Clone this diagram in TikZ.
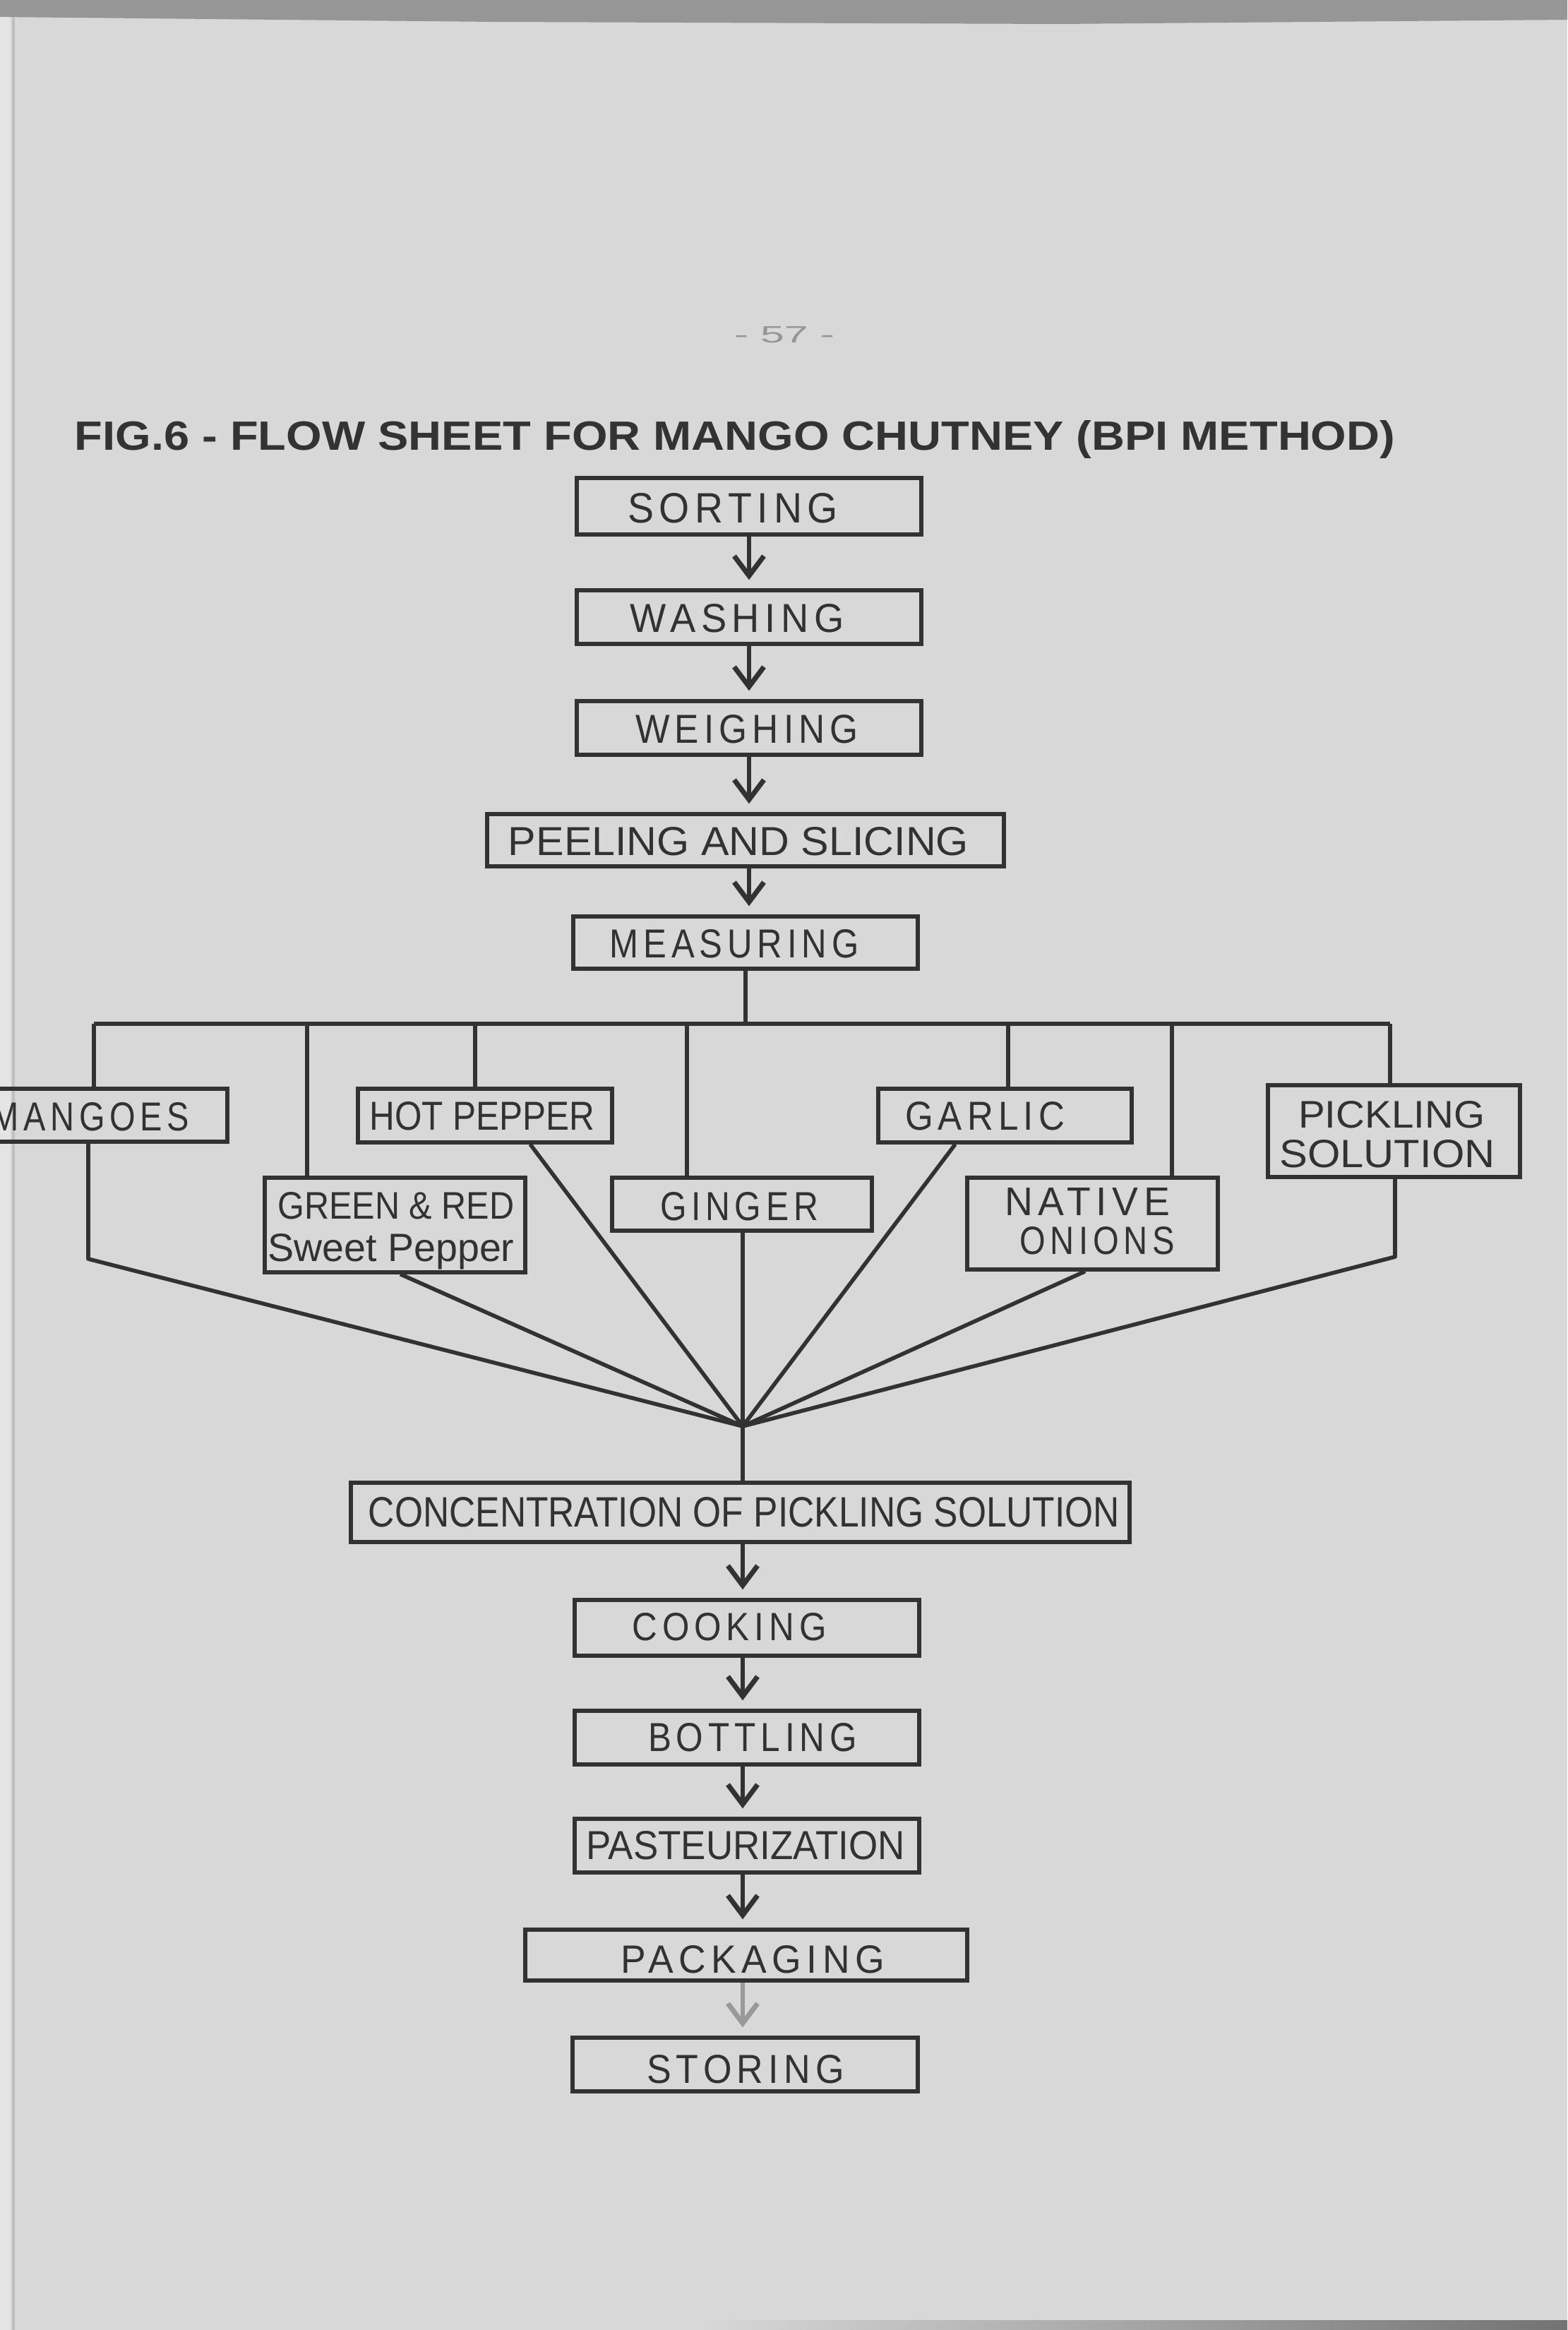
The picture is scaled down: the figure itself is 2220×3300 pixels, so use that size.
\documentclass[tikz,border=0pt]{standalone}
\usepackage{fontspec}
\setmainfont{Liberation Sans}
\newfontfamily\spaced[LetterSpace=14]{Liberation Sans}
\usetikzlibrary{arrows.meta}
\newdimen\pxu \pxu=0.01cm
\definecolor{bg}{RGB}{216,216,216}
\definecolor{ink}{RGB}{50,50,50}
\definecolor{band}{RGB}{150,150,150}
\definecolor{edge}{RGB}{228,228,228}
\definecolor{faint}{RGB}{150,150,150}
\newcommand{\lb}[3]{\resizebox{#1\pxu}{#2\pxu}{#3}}
\newcommand{\bx}[5]{\node[box, minimum width={(#3-#2)*0.01cm}, minimum height={(#5-#4)*0.01cm}] (#1) at ({(#2+#3)/2},{(#4+#5)/2}) {};}
\newcommand{\tx}[6]{\node[txt] (#1) at (#2,#3) {\lb{#4}{#5}{#6}};}
\tikzset{
  box/.style={draw=ink, line width=1.5pt, inner sep=0pt},
  txt/.style={anchor=base, inner sep=0pt, text=ink},
  link/.style={draw=ink, line width=1.6pt, line join=round},
  arr/.style={link, -{Straight Barb[length=0.28cm, width=0.42cm, line width=2pt]}, shorten >=0.12cm}
}
\begin{document}
\begin{tikzpicture}[x=0.01cm, y=-0.01cm]
\useasboundingbox (0,0) rectangle (2220,3300);
% paper
\fill[bg] (0,0) rectangle (2220,3300);
\fill[band] (0,0) -- (2220,0) -- (2220,28) -- (1500,34) -- (700,31) -- (0,24) -- cycle;
\fill[edge] (0,24) rectangle (15,3300);
\draw[color=black!25, line width=1pt] (19,24) -- (19,3300);
\shade[left color=bg, right color=black!55] (990,3286) rectangle (2220,3300);

% page number and title
\node[txt, text=faint] (pageno) at (1111,485) {\lb{142}{23}{-\ 57\ -}};
\node[txt, text=black!80] (title) at (1041,637) {\lb{1870}{42}{\bfseries FIG.6 - FLOW SHEET FOR MANGO CHUTNEY (BPI METHOD)}};

% main upper column
\bx{sorting}{817}{1305}{677}{757}
\tx{tsorting}{1038}{740}{298}{42}{\spaced SORTING}
\bx{washing}{817}{1305}{836}{912}
\tx{twashing}{1044}{895}{303}{40}{\spaced WASHING}
\bx{weighing}{817}{1305}{993}{1069}
\tx{tweighing}{1058}{1052}{316}{40}{\spaced WEIGHING}
\bx{peeling}{690}{1422}{1153}{1227}
\tx{tpeeling}{1046}{1211}{652}{40}{PEELING AND SLICING}
\bx{measuring}{812}{1300}{1298}{1372}
\tx{tmeasuring}{1040}{1356}{353}{40}{\spaced MEASURING}

\draw[arr] (sorting.south) -- (sorting.south |- washing.north);
\draw[arr] (washing.south) -- (washing.south |- weighing.north);
\draw[arr] (weighing.south) -- (weighing.south |- peeling.north);
\draw[arr] (weighing.south |- peeling.south) -- (weighing.south |- measuring.north);

% ingredient row
\bx{mangoes}{-60}{322}{1542}{1617}
\tx{tmangoes}{128}{1601}{280}{40}{\spaced MANGOES}
\bx{hot}{507}{867}{1542}{1618}
\tx{thot}{683}{1600}{319}{40}{HOT PEPPER}
\bx{garlic}{1244}{1603}{1542}{1618}
\tx{tgarlic}{1395}{1600}{226}{40}{\spaced GARLIC}
\bx{pickling}{1796}{2153}{1537}{1667}
\tx{tpick1}{1971}{1597}{264}{38}{PICKLING}
\tx{tpick2}{1965}{1653}{305}{39}{SOLUTION}
\bx{green}{375}{744}{1668}{1802}
\tx{tgreen1}{561}{1726}{335}{38}{GREEN \& RED}
\tx{tgreen2}{554}{1786}{349}{39}{Sweet Pepper}
\bx{ginger}{867}{1235}{1668}{1743}
\tx{tginger}{1047}{1728}{224}{40}{\spaced GINGER}
\bx{native}{1370}{1725}{1668}{1798}
\tx{tnative1}{1540}{1721}{234}{39}{\spaced NATIVE}
\tx{tnative2}{1554}{1776}{219}{39}{\spaced ONIONS}

% distribution bar
\coordinate (bL) at (133,1450);
\coordinate (bR) at (1969,1450);
\coordinate (d2) at (435,1450);
\coordinate (d3) at (673,1450);
\coordinate (d4) at (973,1450);
\coordinate (d5) at (1428,1450);
\coordinate (d6) at (1660,1450);
\draw[link] (bL) -- (bR);
\draw[link] (measuring.south) -- (measuring.south |- bL);
\draw[link] (bL) -- (bL |- mangoes.north);
\draw[link] (d2) -- (d2 |- green.north);
\draw[link] (d3) -- (d3 |- hot.north);
\draw[link] (d4) -- (d4 |- ginger.north);
\draw[link] (d5) -- (d5 |- garlic.north);
\draw[link] (d6) -- (d6 |- native.north);
\draw[link] (bR) -- (bR |- pickling.north);

% lower column
\bx{conc}{497}{1600}{2100}{2184}
\tx{tconc}{1054}{2162}{1064}{42}{CONCENTRATION OF PICKLING SOLUTION}
\bx{cooking}{814}{1302}{2266}{2345}
\tx{tcooking}{1033}{2323}{275}{39}{\spaced COOKING}
\bx{bottling}{814}{1302}{2423}{2499}
\tx{tbottling}{1066}{2480}{296}{40}{\spaced BOTTLING}
\bx{pasteur}{814}{1302}{2576}{2652}
\tx{tpasteur}{1056}{2633}{451}{40}{PASTEURIZATION}
\bx{packaging}{744}{1370}{2733}{2805}
\tx{tpackaging}{1066}{2794}{374}{39}{\spaced PACKAGING}
\bx{storing}{811}{1300}{2886}{2962}
\tx{tstoring}{1056}{2950}{280}{40}{\spaced STORING}

% converging lines
\coordinate (C) at (1052,2020);
\coordinate (mk) at (125,1783);
\coordinate (pk) at (1976,1780);
\draw[link] (125,0 |- mangoes.south) -- (mk) -- (C);
\draw[link] (567,0 |- green.south) -- (C);
\draw[link] (751,0 |- hot.south) -- (C);
\draw[link] (1052,0 |- ginger.south) -- (C) -- (C |- conc.north);
\draw[link] (1353,0 |- garlic.south) -- (C);
\draw[link] (1537,0 |- native.south) -- (C);
\draw[link] (pk |- pickling.south) -- (pk) -- (C);

% lower arrows
\draw[arr] (C |- conc.south) -- (C |- cooking.north);
\draw[arr] (C |- cooking.south) -- (C |- bottling.north);
\draw[arr] (C |- bottling.south) -- (C |- pasteur.north);
\draw[arr] (C |- pasteur.south) -- (C |- packaging.north);
\draw[arr, draw=black!40] (C |- packaging.south) -- (C |- storing.north);
\end{tikzpicture}
\end{document}
